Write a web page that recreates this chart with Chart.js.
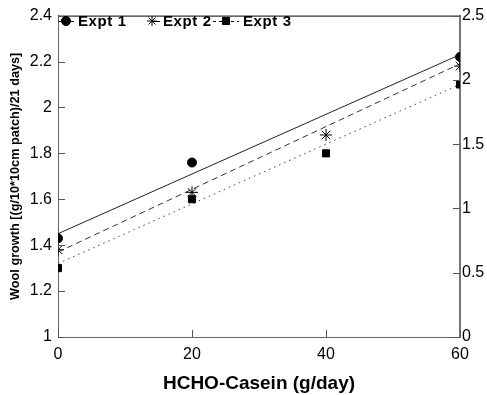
<!DOCTYPE html>
<html>
<head>
<meta charset="utf-8">
<script src="https://cdn.jsdelivr.net/npm/chart.js@4/dist/chart.umd.min.js"></script>
<style>
html, body { margin: 0; padding: 0; background: #fff; }
#wrap { width: 487px; height: 395px; }
</style>
</head>
<body>
<div id="wrap"><canvas id="myChart"></canvas></div>
<script>
// data
const doses = [0, 20, 40, 60];
const expt1 = [1.43, 1.76, null, 2.22];
const expt2 = [1.38, 1.63, 1.88, 2.18];
const expt3 = [1.30, 1.60, 1.80, 2.10];
const fitX = [0, 60];
const fit1 = [1.45, 2.23];
const fit2 = [1.37, 2.19];
const fit3 = [1.32, 2.10];
const xTicks = [0, 20, 40, 60];
const leftTicks = [1, 1.2, 1.4, 1.6, 1.8, 2, 2.2, 2.4];
const rightTicks = [0, 0.5, 1, 1.5, 2, 2.5];
const legendNames = ['Expt 1', 'Expt 2', 'Expt 3'];

const pts = (xs, ys) => xs.map((x, i) => ({ x: x, y: ys[i] })).filter(p => p.y !== null);

const tickFont = { family: 'Liberation Sans, Arial, sans-serif', size: 16 };

// inward tick marks, top border and the legend with line samples
const framePlugin = {
    id: 'frame',
    afterDraw(chart) {
        const ctx = chart.ctx;
        const a = chart.chartArea;
        const sx = chart.scales.x, sy = chart.scales.y, sy2 = chart.scales.y2;
        ctx.save();
        ctx.lineWidth = 1;
        ctx.strokeStyle = '#000';
        ctx.beginPath();
        ctx.moveTo(a.left, a.top + 0.5);
        ctx.lineTo(a.right, a.top + 0.5);
        ctx.stroke();
        ctx.strokeStyle = '#555';
        ctx.beginPath();
        xTicks.forEach(v => {
            const px = Math.round(sx.getPixelForValue(v)) + 0.5;
            ctx.moveTo(px, a.bottom);
            ctx.lineTo(px, a.bottom - 7);
        });
        leftTicks.forEach(v => {
            const py = Math.round(sy.getPixelForValue(v)) + 0.5;
            ctx.moveTo(a.left, py);
            ctx.lineTo(a.left + 7, py);
        });
        rightTicks.forEach(v => {
            const py = Math.round(sy2.getPixelForValue(v)) + 0.5;
            ctx.moveTo(a.right, py);
            ctx.lineTo(a.right - 7, py);
        });
        ctx.stroke();

        // legend
        const ly = 21;
        const items = [
            { x0: 58, x1: 74, px: 66, dash: [], style: 'circle', r: 4.5, tx: 78, text: legendNames[0] },
            { x0: 152, x1: 160, px: 152, dash: [], style: 'star', r: 5, tx: 163, text: legendNames[1] },
            { x0: 213, x1: 239, px: 226, dash: [3, 3], style: 'rect', r: 5, tx: 243, text: legendNames[2] }
        ];
        ctx.font = 'bold 15px Liberation Sans, Arial, sans-serif';
        ctx.letterSpacing = '0.6px';
        ctx.textBaseline = 'middle';
        ctx.fillStyle = '#000';
        items.forEach(it => {
            ctx.strokeStyle = '#000';
            ctx.setLineDash(it.dash);
            ctx.beginPath();
            ctx.moveTo(it.x0, ly + 0.5);
            ctx.lineTo(it.x1, ly + 0.5);
            ctx.stroke();
            ctx.setLineDash([]);
            Chart.helpers.drawPoint(ctx, { pointStyle: it.style, radius: it.r, borderWidth: 1 }, it.px, ly);
            if (it.style !== 'star') ctx.fill();
            ctx.fillText(it.text, it.tx, ly + 1);
        });
        ctx.restore();
    }
};

const ctx = document.getElementById('myChart').getContext('2d');

new Chart(ctx, {
    type: 'scatter',
    data: {
        datasets: [
            {
                label: 'Expt 1',
                data: pts(doses, expt1),
                pointStyle: 'circle',
                pointRadius: 4.5,
                backgroundColor: '#000',
                borderColor: '#000',
                showLine: false
            },
            {
                label: 'Expt 2',
                data: pts(doses, expt2),
                pointStyle: 'star',
                pointRadius: 6,
                borderWidth: 1,
                backgroundColor: '#000',
                borderColor: '#000',
                showLine: false
            },
            {
                label: 'Expt 3',
                data: pts(doses, expt3),
                pointStyle: 'rect',
                pointRadius: 5,
                backgroundColor: '#000',
                borderColor: '#000',
                showLine: false
            },
            {
                label: 'fit 1',
                data: pts(fitX, fit1),
                showLine: true,
                pointRadius: 0,
                borderColor: '#222',
                borderWidth: 1
            },
            {
                label: 'fit 2',
                data: pts(fitX, fit2),
                showLine: true,
                pointRadius: 0,
                borderColor: '#333',
                borderWidth: 1,
                borderDash: [6, 4]
            },
            {
                label: 'fit 3',
                data: pts(fitX, fit3),
                showLine: true,
                pointRadius: 0,
                borderColor: '#444',
                borderWidth: 1,
                borderDash: [1.5, 4]
            }
        ]
    },
    options: {
        responsive: true,
        maintainAspectRatio: false,
        animation: false,
        layout: { padding: { top: 11, left: 0, right: 0, bottom: 0 } },
        plugins: {
            legend: { display: false },
            tooltip: { enabled: false }
        },
        scales: {
            x: {
                type: 'linear',
                min: 0,
                max: 60,
                afterBuildTicks: s => { s.ticks = xTicks.map(v => ({ value: v })); },
                afterFit: s => { s.height = 58; },
                grid: { display: false, drawTicks: false },
                border: { display: true, color: '#666', width: 1 },
                ticks: { color: '#000', font: tickFont, padding: 8, maxRotation: 0 },
                title: {
                    display: true,
                    text: 'HCHO-Casein (g/day)',
                    color: '#000',
                    font: { family: 'Liberation Sans, Arial, sans-serif', size: 19, weight: 'bold' },
                    padding: { top: 8, bottom: 0 }
                }
            },
            y: {
                position: 'left',
                min: 1,
                max: 2.4,
                afterBuildTicks: s => { s.ticks = leftTicks.map(v => ({ value: v })); },
                afterFit: s => { s.width = 58; },
                grid: { display: false, drawTicks: false },
                border: { display: true, color: '#666', width: 1 },
                ticks: { color: '#000', font: tickFont, padding: 6, callback: v => +v.toFixed(1) },
                title: {
                    display: true,
                    text: 'Wool growth [(g/10*10cm patch)/21 days]',
                    color: '#000',
                    font: { family: 'Liberation Sans, Arial, sans-serif', size: 12.7, weight: 'bold' },
                    padding: { top: 8, bottom: 0 }
                }
            },
            y2: {
                position: 'right',
                min: 0,
                max: 2.5,
                afterBuildTicks: s => { s.ticks = rightTicks.map(v => ({ value: v })); },
                afterFit: s => { s.width = 27; },
                grid: { display: false, drawTicks: false },
                border: { display: true, color: '#777', width: 2 },
                ticks: { color: '#000', font: tickFont, padding: 2, callback: v => +v.toFixed(1) }
            }
        }
    },
    plugins: [framePlugin]
});
</script>
</body>
</html>
